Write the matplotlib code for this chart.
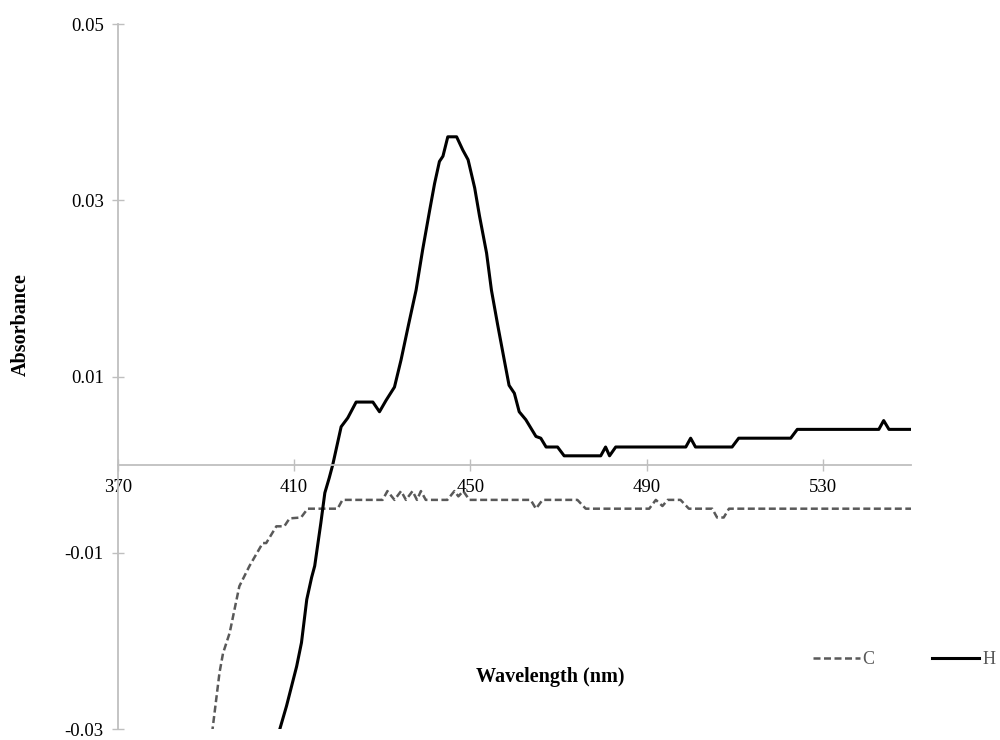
import matplotlib
matplotlib.use("Agg")
import matplotlib.pyplot as plt

# ---- data ----
h_nm = [406.5, 408.3, 410.6, 411.7, 412.9, 414.0, 414.7, 416.1, 417.0, 418.0, 418.8,
        420.7, 422.2, 424.1, 426.0, 427.9, 429.4, 430.9, 432.8, 434.3, 436.0, 437.7,
        439.2, 440.8, 441.9, 443.0, 443.8, 444.9, 446.9, 448.3, 449.5, 451.0, 452.1,
        453.7, 454.8, 456.2, 457.7, 458.8, 460.0, 461.1, 462.6, 464.9, 466.0, 467.2,
        469.8, 471.3, 479.6, 480.7, 481.6, 483.0, 498.9, 500.0, 501.1, 509.4, 510.9,
        522.7, 524.2, 542.7, 543.8, 545.0, 550.0]
h_abs = [-0.0305, -0.0274, -0.0229, -0.0202, -0.0153, -0.0128, -0.0115, -0.0066, -0.0032, -0.0015, 0.0,
         0.0043, 0.0053, 0.0071, 0.0071, 0.0071, 0.0060, 0.0073, 0.0088, 0.0119, 0.0159, 0.0198,
         0.0244, 0.0289, 0.0319, 0.0344, 0.0350, 0.0372, 0.0372, 0.0357, 0.0346, 0.0314, 0.0282,
         0.0240, 0.0198, 0.0159, 0.0119, 0.0090, 0.0081, 0.0060, 0.0051, 0.0032, 0.0030, 0.0020,
         0.0020, 0.0010, 0.0010, 0.0020, 0.0010, 0.0020, 0.0020, 0.0030, 0.0020, 0.0020, 0.0030,
         0.0030, 0.0040, 0.0040, 0.0050, 0.0040, 0.0040]

c_nm = [391.4, 393.1, 393.9, 395.4, 397.6, 399.9, 402.9, 403.7, 406.0, 407.8, 409.0,
        411.6, 413.1, 419.9, 421.0, 430.1, 431.2, 432.8, 434.3, 435.4, 436.9, 437.9,
        438.8, 439.9, 444.8, 446.4, 447.3, 448.4, 449.8, 463.7, 464.9, 466.4, 474.3,
        476.2, 490.6, 492.1, 493.6, 494.8, 497.7, 499.6, 504.9, 506.0, 507.5, 508.7, 550.0]
c_abs = [-0.0305, -0.0236, -0.0214, -0.0191, -0.0138, -0.0115, -0.0089, -0.0089, -0.0070, -0.0070, -0.0061,
         -0.0060, -0.0050, -0.0050, -0.0040, -0.0040, -0.0030, -0.0040, -0.0030, -0.0040, -0.0030, -0.0040,
         -0.0030, -0.0040, -0.0040, -0.0030, -0.0036, -0.0030, -0.0040, -0.0040, -0.0050, -0.0040, -0.0040,
         -0.0050, -0.0050, -0.0040, -0.0047, -0.0040, -0.0040, -0.0050, -0.0050, -0.0060, -0.0060, -0.0050, -0.0050]

x_ticks = [370, 410, 450, 490, 530]
y_ticks = [-0.03, -0.01, 0.01, 0.03, 0.05]
y_tick_labels = ["-0.03", "-0.01", "0.01", "0.03", "0.05"]

# ---- figure ----
plt.rcParams['font.family'] = ['Liberation Serif', 'DejaVu Serif']
fig = plt.figure(figsize=(10, 7.4), dpi=100)
ax = fig.add_axes([0.1177, 0.01486, 0.7933, 0.9527])

ax.plot(c_nm, c_abs, color='#595959', lw=1.8, linestyle=(0, (2.8, 1.4)), label='C')
ax.plot(h_nm, h_abs, color='black', lw=2.2, label='H')

ax.set_xlim(370, 550)
ax.set_ylim(-0.03, 0.05)
ax.set_xticks(x_ticks)
ax.set_yticks(y_ticks)
ax.set_yticklabels(y_tick_labels)

for s in ['top', 'right']:
    ax.spines[s].set_visible(False)
ax.spines['bottom'].set_position(('data', 0))
ax.spines['left'].set_color('#BFBFBF')
ax.spines['bottom'].set_color('#BFBFBF')
ax.spines['left'].set_linewidth(1.3)
ax.spines['bottom'].set_linewidth(1.3)

ax.tick_params(axis='both', direction='inout', length=8, width=1.0, color='#BFBFBF',
               labelsize=13.5, labelcolor='#000000')
ax.tick_params(axis='y', pad=6)
ax.tick_params(axis='x', pad=6)

ax.set_xlabel('Wavelength (nm)', fontsize=14.5, fontweight='bold', va='center')
ax.xaxis.set_label_coords(0.545, 0.0738)
ax.set_ylabel('Absorbance', fontsize=14.5, fontweight='bold', va='center')
ax.yaxis.set_label_coords(-0.1219, 0.573)

fig.legend(loc='center left', bbox_to_anchor=(0.813, 1 - 660 / 740), ncol=2, frameon=False,
           fontsize=13, handlelength=2.6, handletextpad=0.15, columnspacing=3.2,
           borderpad=0, borderaxespad=0, labelcolor='#595959')

fig.savefig('out.png', dpi=100)
